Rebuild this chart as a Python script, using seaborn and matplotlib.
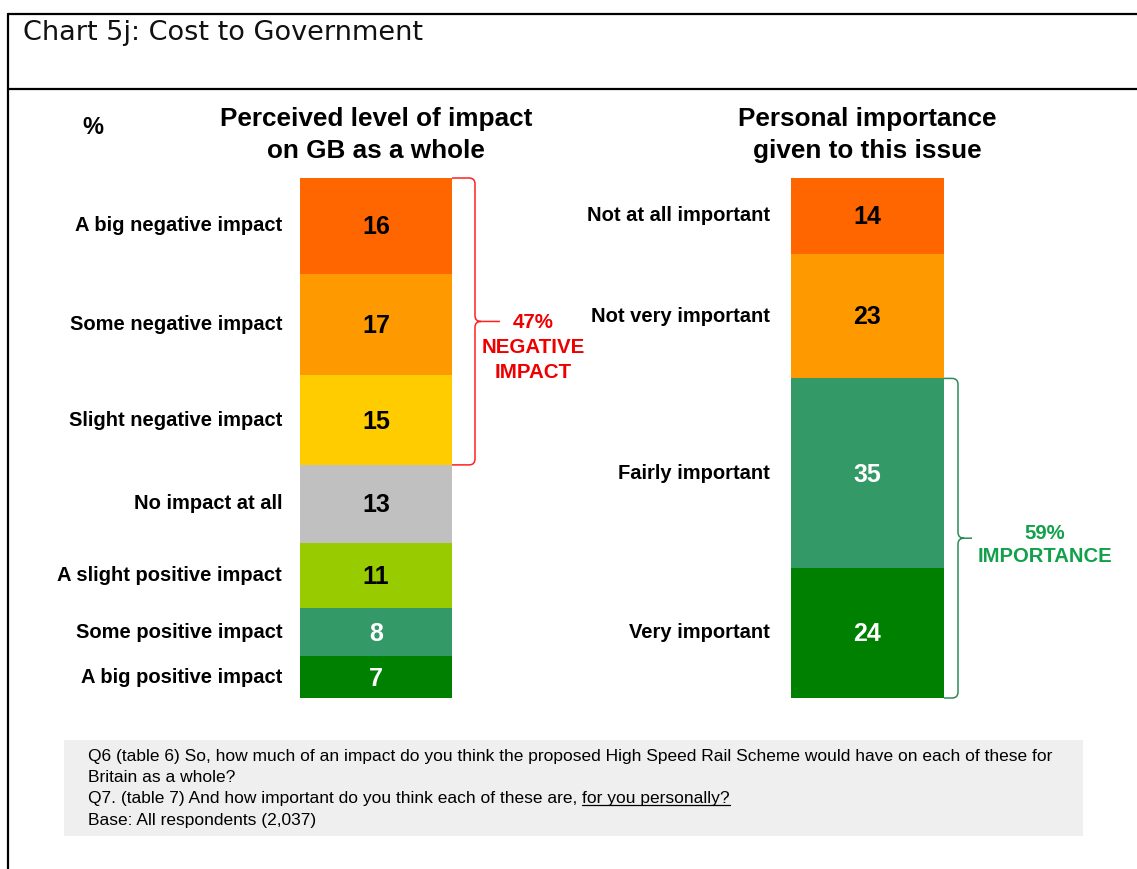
import numpy as np
import pandas as pd
import seaborn as sns
import matplotlib
matplotlib.use("Agg")
import matplotlib.pyplot as plt
from matplotlib import font_manager as fm
from matplotlib.path import Path
from matplotlib.patches import PathPatch, Rectangle
from matplotlib.lines import Line2D

# ---------------- data ----------------
impact_labels = ["A big negative impact", "Some negative impact", "Slight negative impact",
                 "No impact at all", "A slight positive impact", "Some positive impact",
                 "A big positive impact"]
impact_values = [16, 17, 15, 13, 11, 8, 7]
impact_colors = ["#FF6600", "#FF9900", "#FFCC00", "#C0C0C0", "#99CC00", "#339966", "#008000"]

importance_labels = ["Not at all important", "Not very important", "Fairly important", "Very important"]
importance_values = [14, 23, 35, 24]
importance_colors = ["#FF6600", "#FF9900", "#339966", "#008000"]

negative_summary = "47%\nNEGATIVE\nIMPACT"
importance_summary = "59%\nIMPORTANCE"
negative_segments = 3      # top three segments bracketed
importance_segments = 2    # bottom two segments bracketed

title = "Chart 5j: Cost to Government"
left_header = "Perceived level of impact\non GB as a whole"
right_header = "Personal importance\ngiven to this issue"
footer_lines = [
    "Q6 (table 6) So, how much of an impact do you think the proposed High Speed Rail Scheme would have on each of these for",
    "Britain as a whole?",
]
footer_q7 = "Q7. (table 7) And how important do you think each of these are, "
footer_q7_ul = "for you personally?"
footer_base = "Base: All respondents (2,037)"

# ---------------- style ----------------
sns.set_theme(style="white")
avail = {f.name for f in fm.fontManager.ttflist}
ARIAL = "Liberation Sans" if "Liberation Sans" in avail else "DejaVu Sans"
NARROW = "Liberation Sans Narrow" if "Liberation Sans Narrow" in avail else ARIAL
plt.rcParams["font.family"] = [ARIAL, "DejaVu Sans"]
plt.rcParams["text.color"] = "black"

W, H = 1137, 869
fig = plt.figure(figsize=(W / 100, H / 100), dpi=100)
fig.patch.set_facecolor("white")


def rect(x0, y0, x1, y1):
    return [x0 / W, 1 - y1 / H, (x1 - x0) / W, (y1 - y0) / H]


def fx(px):
    return px / W


def fy(py):
    return 1 - py / H


def stacked(ax, labels, values, colors, label_gap):
    total = sum(values)
    # cumulative tops measured from the bottom (last label sits at the bottom)
    tops = np.cumsum(values[::-1])[::-1]
    df = pd.DataFrame({"pos": ["bar"] * len(values), "top": tops, "cat": labels})
    sns.barplot(data=df, x="pos", y="top", hue="cat", hue_order=labels,
                palette=dict(zip(labels, colors)), dodge=False, width=1.0,
                saturation=1, linewidth=0, errorbar=None, legend=False, ax=ax)
    ax.set_xlim(-0.5, 0.5)
    ax.set_ylim(0, total)
    ax.axis("off")
    for lab, v, top, c in zip(labels, values, tops, colors):
        yc = top - v / 2
        tc = "white" if c in ("#339966", "#008000") else "black"
        ax.text(0, yc - 0.25, str(v), ha="center", va="center", fontsize=18,
                fontweight="bold", family=[NARROW, "DejaVu Sans"], color=tc)
        ax.annotate(lab, xy=(-0.5, yc), xytext=(-label_gap, 0), textcoords="offset pixels",
                    ha="right", va="center", fontsize=14.5, fontweight="bold",
                    color="black", annotation_clip=False)
    return tops


def brace(ax, y0, y1, bar_px, vx_px, tip_px, color, r_px=6):
    # x coordinates in data units: bar right edge at 0.5, bar_px pixels per unit
    total = ax.get_ylim()[1]
    ypx = 520.0 / total
    def X(p):
        return 0.5 + p / bar_px
    ry = r_px / ypx
    ym = (y0 + y1) / 2
    verts = [(X(0), y1), (X(vx_px - r_px), y1), (X(vx_px), y1), (X(vx_px), y1 - ry),
             (X(vx_px), ym + ry), (X(vx_px), ym), (X(vx_px + r_px), ym), (X(tip_px), ym),
             (X(0), y0), (X(vx_px - r_px), y0), (X(vx_px), y0), (X(vx_px), y0 + ry),
             (X(vx_px), ym - ry), (X(vx_px), ym), (X(vx_px + r_px), ym)]
    codes = [Path.MOVETO, Path.LINETO, Path.CURVE3, Path.CURVE3,
             Path.LINETO, Path.CURVE3, Path.CURVE3, Path.LINETO,
             Path.MOVETO, Path.LINETO, Path.CURVE3, Path.CURVE3,
             Path.LINETO, Path.CURVE3, Path.CURVE3]
    p = PathPatch(Path(verts, codes), fill=False, edgecolor=color, lw=1.1, clip_on=False)
    ax.add_patch(p)
    return X(tip_px), ym


# ---------------- frame ----------------
fig.add_artist(Line2D([fx(8), 1], [fy(14), fy(14)], color="black", lw=1.6))
fig.add_artist(Line2D([fx(8), 1], [fy(89), fy(89)], color="black", lw=1.6))
fig.add_artist(Line2D([fx(8), fx(8)], [fy(14), 0], color="black", lw=1.6))
fig.text(fx(23), fy(33), title, ha="left", va="center", fontsize=19.5,
         family=["DejaVu Sans"], color="#111111")

# ---------------- bars ----------------
axL = fig.add_axes(rect(300, 178, 452, 698))
topsL = stacked(axL, impact_labels, impact_values, impact_colors, label_gap=18)
axR = fig.add_axes(rect(791, 178, 944, 698))
topsR = stacked(axR, importance_labels, importance_values, importance_colors, label_gap=21)

# headers
fig.text(fx(376), fy(135), left_header, ha="center", va="center", fontsize=18.8,
         fontweight="bold", linespacing=1.42)
fig.text(fx(867), fy(135), right_header, ha="center", va="center", fontsize=18.8,
         fontweight="bold", linespacing=1.42)
fig.text(fx(93), fy(127), "%", ha="center", va="center", fontsize=17, fontweight="bold")

# brackets
totL = sum(impact_values)
y1 = totL
y0 = totL - sum(impact_values[:negative_segments])
tx, ty = brace(axL, y0, y1, 152, 23, 48, "#FF2020")
axL.annotate(negative_summary, xy=(0.5, ty), xytext=(81, -26), textcoords="offset pixels",
             ha="center", va="center", fontsize=14.8, fontweight="bold", color="#EE0000",
             linespacing=1.38, annotation_clip=False)

y0 = 0
y1 = sum(importance_values[-importance_segments:])
tx, ty = brace(axR, y0, y1, 153, 14, 28, "#2E8B57")
axR.annotate(importance_summary, xy=(0.5, ty), xytext=(101, -7), textcoords="offset pixels",
             ha="center", va="center", fontsize=14.6, fontweight="bold", color="#12A04A",
             linespacing=1.3, annotation_clip=False)

# ---------------- footer ----------------
fig.add_artist(Rectangle((fx(64), fy(836)), fx(1083) - fx(64), fy(740) - fy(836),
                         transform=fig.transFigure, facecolor="#EFEFEF", edgecolor="none"))
fs = 12.55
line_y = [756, 777, 799, 821]
fig.text(fx(88), fy(line_y[0]), footer_lines[0], ha="left", va="center", fontsize=fs, color="black")
fig.text(fx(88), fy(line_y[1]), footer_lines[1], ha="left", va="center", fontsize=fs, color="black")
t7 = fig.text(fx(88), fy(line_y[2]), footer_q7, ha="left", va="center", fontsize=fs, color="black")
fig.text(fx(88), fy(line_y[3]), footer_base, ha="left", va="center", fontsize=fs, color="black")
fig.canvas.draw()
r = fig.canvas.get_renderer()
bb = t7.get_window_extent(r)
t7u = fig.text(bb.x1 / W, fy(line_y[2]), footer_q7_ul, ha="left", va="center",
               fontsize=fs, color="black")
bbu = t7u.get_window_extent(r)
uy = bbu.y0 + 2
fig.add_artist(Line2D([bbu.x0 / W, bbu.x1 / W], [uy / H, uy / H], color="black", lw=0.9))

fig.savefig("out.png", dpi=100, facecolor="white")
